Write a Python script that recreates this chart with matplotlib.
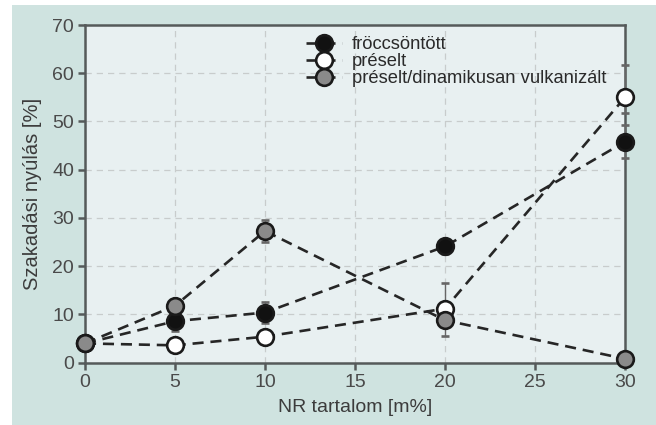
import numpy as np
import matplotlib.pyplot as plt
from matplotlib.patches import Rectangle
from matplotlib.lines import Line2D

plt.rcParams['font.family'] = ['Liberation Sans', 'DejaVu Sans']

nr = [0, 5, 10, 20, 30]

froccs = [4.0, 8.6, 10.4, 24.1, 45.8]
froccs_err = [0.6, 2.0, 2.2, 1.6, 3.4]

preselt = [4.0, 3.6, 5.4, 11.2, 55.0]
preselt_err_lo = [0.6, 0.8, 0.8, 5.6, 3.2]
preselt_err_hi = [0.6, 0.8, 0.8, 5.4, 6.7]

dinam = [4.0, 11.8, 27.3, 8.8, 0.8]
dinam_err = [0.6, 1.0, 2.2, 1.0, 0.3]

labels = ["fröccsöntött", "préselt", "préselt/dinamikusan vulkanizált"]
fills = ["#111111", "white", "#8a8a8a"]

fig = plt.figure(figsize=(6.56, 4.25), dpi=100, facecolor="white")
fig.patches.append(Rectangle((12 / 656, 0), 1, 1 - 5 / 425, transform=fig.transFigure,
                             facecolor="#cfe3e0", edgecolor="none", zorder=-10))
ax = fig.add_axes([85 / 656, 1 - 362.7 / 425, 540 / 656, 337.7 / 425])
ax.set_facecolor("#e8f0f1")

marker_opts = {
    "color": "#262626",
    "linestyle": (0, (4.2, 2.6)),
    "linewidth": 1.9,
    "marker": "o",
    "markersize": 12,
    "markeredgewidth": 1.9,
    "markeredgecolor": "#1a1a1a",
}
err_opts = {
    "ecolor": "#666666",
    "elinewidth": 1.0,
    "capsize": 3,
    "clip_on": False,
}

ax.errorbar(nr, preselt, yerr=[preselt_err_lo, preselt_err_hi], markerfacecolor=fills[1],
            zorder=3, **marker_opts, **err_opts)
ax.errorbar(nr, froccs, yerr=froccs_err, markerfacecolor=fills[0],
            zorder=4, **marker_opts, **err_opts)
ax.errorbar(nr, dinam, yerr=dinam_err, markerfacecolor=fills[2],
            zorder=5, **marker_opts, **err_opts)

ax.set_xlim(0, 30)
ax.set_ylim(0, 70)
ax.set_xticks(np.arange(0, 31, 5))
ax.set_yticks(np.arange(0, 71, 10))
ax.grid(True, color="#c8cccc", linestyle=(0, (5, 4)), linewidth=0.9)
ax.set_axisbelow(True)

for s in ax.spines.values():
    s.set_color("#555a5a")
    s.set_linewidth(1.8)
ax.tick_params(colors="#555a5a", labelcolor="#4a4a4a", labelsize=14, width=1.8, length=5, pad=3)

ax.set_xlabel("NR tartalom [m%]", fontsize=14, color="#3c3c3c", labelpad=6)
ax.set_ylabel("Szakadási nyúlás [%]", fontsize=14.5, color="#3c3c3c", labelpad=7)

handles = [Line2D([], [], markerfacecolor=f, **marker_opts) for f in fills]
leg = ax.legend(handles, labels, loc="upper left", bbox_to_anchor=(0.385, 1.005),
                frameon=False, fontsize=13.2, handlelength=2.0, handletextpad=0.5,
                labelspacing=0.0, borderaxespad=0.3)
for t in leg.get_texts():
    t.set_color("#2a2a2a")

fig.savefig("out.png", dpi=100)
